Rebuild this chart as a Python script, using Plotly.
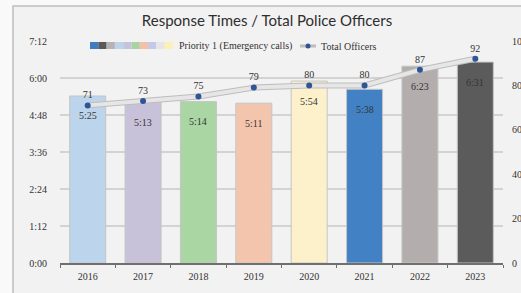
import plotly.graph_objects as go

years = ["2016", "2017", "2018", "2019", "2020", "2021", "2022", "2023"]
response_sec = [325, 313, 314, 311, 354, 338, 383, 391]
response_lbl = ["5:25", "5:13", "5:14", "5:11", "5:54", "5:38", "6:23", "6:31"]
officers = [71, 73, 75, 79, 80, 80, 87, 92]
bar_colors = ["#bdd5ec", "#c7c2da", "#a9d6a3", "#f3c5ad", "#fdf1cc", "#4282c4", "#b3adad", "#5b5b5b"]
left_tickvals = [0, 72, 144, 216, 288, 360, 432]
left_ticktext = ["0:00", "1:12", "2:24", "3:36", "4:48", "6:00", "7:12"]
right_tickvals = [0, 20, 40, 60, 80, 100]

W, H = 521, 293
ML, MR, MT, MB = 60, 18, 41, 30
PW, PH = W - ML - MR, H - MT - MB

def px_x(p):
    return (p - ML) / PW

def px_y(p):
    return 1 - (p - MT) / PH

SERIF = "Liberation Serif"

fig = go.Figure()
fig.add_trace(go.Bar(
    x=years, y=response_sec, marker=dict(color=bar_colors, line=dict(color="#c4c4c4", width=1)),
    name="Priority 1 (Emergency calls)", showlegend=False, hoverinfo="skip"))
fig.add_trace(go.Scatter(
    x=years, y=officers, yaxis="y2", mode="lines", line=dict(color="#bdbdbd", width=6),
    showlegend=False, hoverinfo="skip"))
fig.add_trace(go.Scatter(
    x=years, y=officers, yaxis="y2", mode="lines+markers+text",
    line=dict(color="#e6e6e6", width=4), marker=dict(color="#2f5597", size=6),
    text=[str(v) for v in officers], textposition="top center",
    textfont=dict(family=SERIF, size=10, color="#333333"),
    name="Total Officers", showlegend=False))

for i, (v, lbl) in enumerate(zip(response_sec, response_lbl)):
    fig.add_annotation(x=i, y=v, text=lbl, showarrow=False, yshift=-20,
                       font=dict(family=SERIF, size=10, color="#333333"))

shapes = []
# outer frame
shapes.append(dict(type="rect", xref="paper", yref="paper", x0=px_x(13), x1=px_x(530),
                   y0=px_y(300), y1=px_y(6), line=dict(color="#bdbdbd", width=1.5),
                   fillcolor="#f2f2f2", layer="below"))
# legend swatch
sw = ["#3f7cc0", "#5a5a5a", "#b6b3b3", "#bdd3ea", "#c4c2dc", "#a8d4a2", "#f2c1aa", "#c6c8e8", "#e6e6e6", "#fbf0b6"]
x0, x1 = 90, 173
step = (x1 - x0) / len(sw)
shapes.append(dict(type="rect", xref="paper", yref="paper", x0=px_x(88), x1=px_x(175),
                   y0=px_y(50), y1=px_y(41), fillcolor="#f2f2f2", line=dict(width=0), layer="above"))
for i, c in enumerate(sw):
    shapes.append(dict(type="rect", xref="paper", yref="paper", x0=px_x(x0 + i * step), x1=px_x(x0 + (i + 1) * step),
                       y0=px_y(49), y1=px_y(42), fillcolor=c, line=dict(width=0), layer="above"))
shapes.append(dict(type="rect", xref="paper", yref="paper", x0=px_x(176), x1=px_x(380),
                   y0=px_y(50), y1=px_y(41), fillcolor="#f2f2f2", line=dict(width=0), layer="above"))
shapes.append(dict(type="line", xref="paper", yref="paper", x0=px_x(300), x1=px_x(316),
                   y0=px_y(46), y1=px_y(46), line=dict(color="#bdbdbd", width=3), layer="above"))
shapes.append(dict(type="circle", xref="paper", yref="paper", x0=px_x(305.5), x1=px_x(310.5),
                   y0=px_y(48.5), y1=px_y(43.5), fillcolor="#2f5597", line=dict(width=0), layer="above"))

fig.add_annotation(xref="paper", yref="paper", x=px_x(177), y=px_y(46), xanchor="left", yanchor="middle",
                   text="Priority 1 (Emergency calls)", showarrow=False,
                   font=dict(family=SERIF, size=10, color="#333333"))
fig.add_annotation(xref="paper", yref="paper", x=px_x(319), y=px_y(46), xanchor="left", yanchor="middle",
                   text="Total Officers", showarrow=False,
                   font=dict(family=SERIF, size=10, color="#333333"))

fig.update_layout(
    width=W, height=H, margin=dict(l=ML, r=MR, t=MT, b=MB, autoexpand=False),
    paper_bgcolor="#f9f9f9", plot_bgcolor="rgba(0,0,0,0)",
    bargap=0.35, shapes=shapes,
    title=dict(text="Response Times / Total Police Officers", x=267 / W, xref="container",
               y=1 - 21 / H, yref="container", xanchor="center", yanchor="middle",
               font=dict(family="Lato", size=15, color="#2e2e2e")),
    xaxis=dict(type="category", range=[-0.5, len(years) - 0.5], showgrid=False, showline=True,
               linecolor="#6f6f6f", linewidth=1.5, automargin=False,
               ticks="outside", tickson="boundaries", ticklen=3, tickcolor="#6f6f6f",
               ticklabelstandoff=3,
               tickfont=dict(family=SERIF, size=10, color="#333333")),
    yaxis=dict(range=[0, 432], tickvals=left_tickvals, ticktext=left_ticktext,
               showgrid=True, gridcolor="#d3d3d3", gridwidth=2, zeroline=False,
               ticklabelstandoff=12, automargin=False,
               tickfont=dict(family=SERIF, size=10, color="#333333")),
    yaxis2=dict(range=[0, 100], tickvals=right_tickvals, overlaying="y", side="right",
                showgrid=False, zeroline=False, ticklabelstandoff=8, automargin=False,
                tickfont=dict(family=SERIF, size=10, color="#333333")),
)

fig.write_html("out.html", config={"displayModeBar": False},
               post_script="document.body.style.margin='0';")
